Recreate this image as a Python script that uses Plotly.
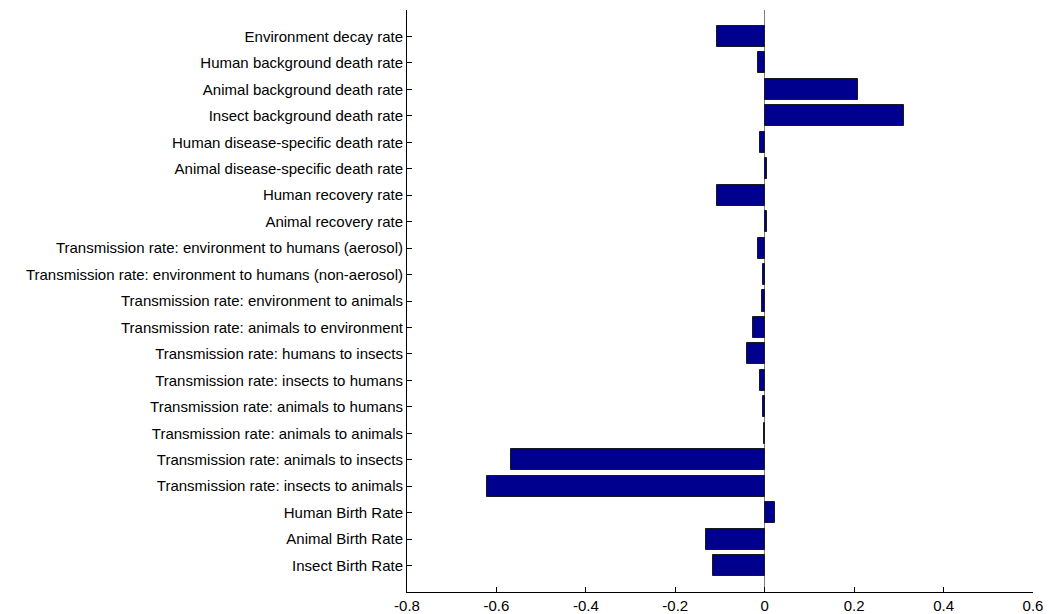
import plotly.graph_objects as go

# Sensitivity of the outcome to each model parameter
parameters = [
    "Environment decay rate",
    "Human background death rate",
    "Animal background death rate",
    "Insect background death rate",
    "Human disease-specific death rate",
    "Animal disease-specific death rate",
    "Human recovery rate",
    "Animal recovery rate",
    "Transmission rate: environment to humans (aerosol)",
    "Transmission rate: environment to humans (non-aerosol)",
    "Transmission rate: environment to animals",
    "Transmission rate: animals to environment",
    "Transmission rate: humans to insects",
    "Transmission rate: insects to humans",
    "Transmission rate: animals to humans",
    "Transmission rate: animals to animals",
    "Transmission rate: animals to insects",
    "Transmission rate: insects to animals",
    "Human Birth Rate",
    "Animal Birth Rate",
    "Insect Birth Rate",
]
sensitivity = [
    -0.106, -0.014, 0.209, 0.312, -0.010, 0.006, -0.106, 0.006,
    -0.014, -0.003, -0.005, -0.027, -0.040, -0.010, -0.003, -0.001,
    -0.568, -0.621, 0.023, -0.131, -0.116,
]
x_ticks = [-0.8, -0.6, -0.4, -0.2, 0, 0.2, 0.4, 0.6]

# First parameter at the top, last at the bottom
n = len(parameters)
positions = list(range(n, 0, -1))

fig = go.Figure(
    go.Bar(
        x=sensitivity,
        y=positions,
        orientation="h",
        width=0.8,
        marker=dict(color="#00008F", line=dict(color="#1a1a1a", width=1)),
        hoverinfo="x",
    )
)

fig.update_layout(
    width=1049,
    height=614,
    margin=dict(l=407, r=16, t=10, b=22),
    plot_bgcolor="white",
    paper_bgcolor="white",
    font=dict(family="Liberation Sans, Arial, sans-serif", size=15, color="black"),
    showlegend=False,
    bargap=0,
)

fig.update_xaxes(
    range=[-0.8, 0.6],
    tickvals=x_ticks,
    ticktext=["-0.8", "-0.6", "-0.4", "-0.2", "0", "0.2", "0.4", "0.6"],
    showgrid=False,
    zeroline=True,
    zerolinecolor="#808080",
    zerolinewidth=1,
    showline=True,
    linecolor="black",
    linewidth=1,
    ticks="inside",
    ticklen=5,
    tickcolor="black",
    automargin=False,
)

fig.update_yaxes(
    range=[0, n + 1],
    tickvals=positions,
    ticktext=parameters,
    showgrid=False,
    zeroline=False,
    showline=True,
    linecolor="black",
    linewidth=1,
    ticks="inside",
    ticklen=5,
    tickcolor="black",
    automargin=False,
)

fig.write_html("out.html")
